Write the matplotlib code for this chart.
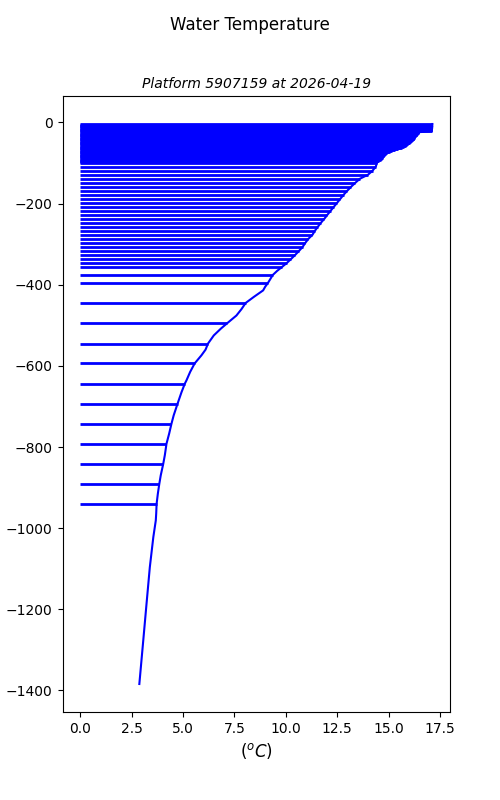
import numpy as np
import matplotlib
matplotlib.use('Agg')
import matplotlib.pyplot as plt

# profile (depth in m, temperature in degC)
depth = [-4, -6, -8, -10, -12, -14, -16, -18, -20, -22,
         -24, -26, -28, -30, -32, -34, -36, -38, -40, -42,
         -44, -46, -48, -50, -52, -54, -56, -58, -60, -62,
         -64, -66, -68, -70, -72, -74, -76, -78, -80, -82,
         -84, -86, -88, -90, -92, -94, -96, -98, -100,
         -109, -119, -129, -139, -149, -159, -168, -178, -188, -198,
         -208, -218, -228, -238, -248, -258, -267, -277, -287, -297,
         -307, -317, -327, -337, -347, -357,
         -366, -376, -386, -396, -405, -414, -430, -445, -460, -476,
         -495, -508, -525, -545, -560, -574, -594, -615, -636, -644,
         -665, -693, -722, -743, -767, -792, -820, -842, -870, -891,
         -915, -940, -964, -981, -1022, -1096, -1186, -1277, -1384]
temp = [17.13, 17.13, 17.12, 17.13, 17.12, 17.12, 17.11, 17.11, 17.1, 17.1,
        16.5, 16.48, 16.45, 16.4, 16.38, 16.35, 16.3, 16.28, 16.25, 16.24,
        16.2, 16.15, 16.1, 16.05, 16.0, 15.95, 15.9, 15.85, 15.75, 15.65,
        15.55, 15.45, 15.3, 15.18, 15.06, 14.98, 14.93, 14.88, 14.84, 14.8,
        14.76, 14.73, 14.71, 14.69, 14.62, 14.55, 14.5, 14.46, 14.43,
        14.38, 14.22, 14.0, 13.6, 13.38, 13.17, 13.0, 12.82, 12.66, 12.5,
        12.34, 12.18, 12.02, 11.87, 11.7, 11.55, 11.42, 11.3, 11.1, 10.95,
        10.82, 10.64, 10.45, 10.25, 10.04, 9.8,
        9.58, 9.37, 9.25, 9.13, 9.0, 8.9, 8.45, 8.05, 7.85, 7.6,
        7.15, 6.85, 6.5, 6.22, 6.1, 5.9, 5.57, 5.35, 5.17, 5.09,
        4.93, 4.74, 4.55, 4.44, 4.33, 4.2, 4.12, 4.04, 3.92, 3.85,
        3.78, 3.72, 3.7, 3.68, 3.56, 3.39, 3.23, 3.07, 2.88]

# levels that also show a line from 0 to the profile
bar_depth = depth[:75] + [-376, -396, -445, -495, -545, -594, -644,
                          -693, -743, -792, -842, -891, -940]

platform = '5907159'
date = '2026-04-19'

lookup = dict(zip(depth, temp))
bar_temp = [lookup[d] for d in bar_depth]

fig = plt.figure(figsize=(5, 8), dpi=100)
ax = fig.add_subplot(111)
fig.suptitle('Water Temperature')

ax.hlines(bar_depth, 0, bar_temp, color='blue', linewidth=2)
ax.plot(temp, depth, color='blue', linewidth=1.5)

ax.set_title(f'Platform {platform} at {date}', fontsize=10, style='italic')
ax.set_xlabel(r'$(^oC)$', fontsize=12)
ax.set_ylabel('depth (m)')

plt.savefig('out.png')
